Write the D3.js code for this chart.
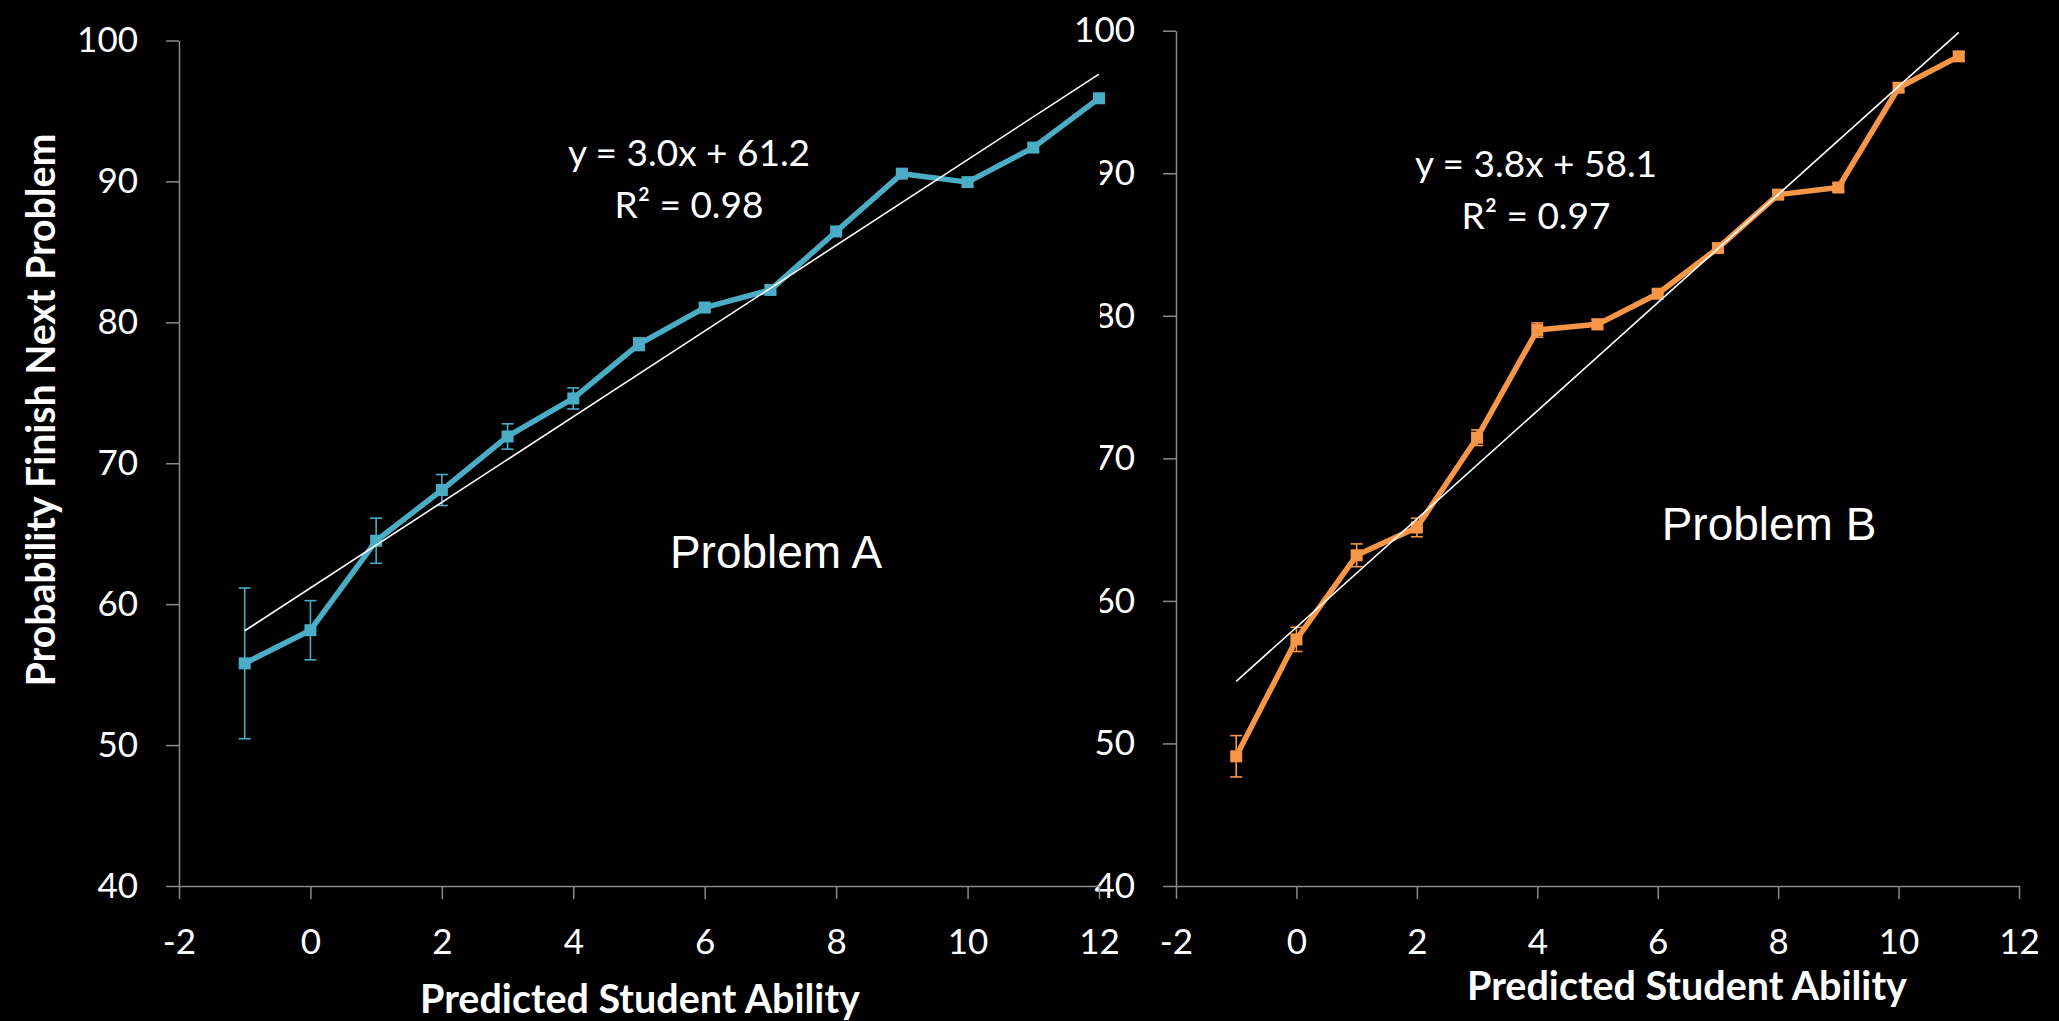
<!DOCTYPE html>
<html>
<head>
<meta charset="utf-8">
<script src="https://cdn.jsdelivr.net/npm/d3@7"></script>
<style>
  html, body { margin: 0; padding: 0; background: #000; }
  svg { display: block; }
</style>
</head>
<body>
<svg id="chart" width="2059" height="1021"></svg>
<script>
// ---------- data ----------
const abilityA = [-1, 0, 1, 2, 3, 4, 5, 6, 7, 8, 9, 10, 11, 12];
const probA    = [55.8, 58.15, 64.5, 68.1, 71.9, 74.6, 78.45, 81.05, 82.3, 86.45, 90.55, 89.95, 92.4, 95.9];
const errA     = [5.35, 2.1, 1.6, 1.1, 0.9, 0.75, 0.45, 0.3, 0.3, 0.3, 0.3, 0.3, 0.3, 0.3];

const abilityB = [-1, 0, 1, 2, 3, 4, 5, 6, 7, 8, 9, 10, 11];
const probB    = [49.1, 57.3, 63.2, 65.15, 71.45, 79.0, 79.4, 81.55, 84.75, 88.5, 89.0, 96.0, 98.2];
const errB     = [1.45, 0.85, 0.8, 0.65, 0.55, 0.5, 0.35, 0.3, 0.3, 0.3, 0.3, 0.3, 0.3];

const xTicks = [-2, 0, 2, 4, 6, 8, 10, 12];
const yTicks = [40, 50, 60, 70, 80, 90, 100];

const eqTextA = ["y = 3.0x + 61.2", "R\u00B2 = 0.98"];
const eqTextB = ["y = 3.8x + 58.1", "R\u00B2 = 0.97"];
const panelLabels = ["Problem A", "Problem B"];
const yTitle = "Probability Finish Next Problem";
const xTitle = "Predicted Student Ability";

// ---------- helpers ----------
const svg = d3.select("#chart");
svg.append("rect").attr("width", 2059).attr("height", 1021).attr("fill", "#000");

const AXIS = "#8a8a8a";
const FONT = "Lato, 'Open Sans', sans-serif";

function regression(xs, ys) {
  const n = xs.length, mx = d3.mean(xs), my = d3.mean(ys);
  let sxy = 0, sxx = 0;
  for (let i = 0; i < n; i++) { sxy += (xs[i] - mx) * (ys[i] - my); sxx += (xs[i] - mx) ** 2; }
  const m = sxy / sxx;
  return { m, b: my - m * mx };
}

function fitText(sel, targetWidth) {
  const node = sel.node();
  const fs = parseFloat(sel.attr("font-size"));
  const w = node.getComputedTextLength();
  if (w > 0) sel.attr("font-size", fs * targetWidth / w);
}

function drawAxes(g, x, y) {
  const ya = g.append("g").attr("transform", `translate(${x.range()[0]},0)`)
    .call(d3.axisLeft(y).tickValues(yTicks).tickSize(13).tickSizeOuter(0).tickPadding(28));
  const xa = g.append("g").attr("transform", `translate(0,${y.range()[0]})`)
    .call(d3.axisBottom(x).tickValues(xTicks).tickSize(13).tickSizeOuter(0).tickPadding(30)
      .tickFormat(d3.format("d")));
  [ya, xa].forEach(a => {
    a.selectAll("path.domain").attr("stroke", AXIS).attr("stroke-width", 1.5);
    a.selectAll(".tick line").attr("stroke", AXIS).attr("stroke-width", 1.5);
    a.selectAll(".tick text").attr("fill", "#fff").attr("font-family", FONT)
      .attr("font-size", 35);
  });
  xa.selectAll(".tick text").text(d => d < 0 ? "-" + Math.abs(d) : d);
}

function drawSeries(g, x, y, xs, ys, es, color) {
  const pts = xs.map((v, i) => ({ x: v, y: ys[i], e: es[i] }));
  g.append("path").datum(pts)
    .attr("fill", "none").attr("stroke", color).attr("stroke-width", 5.5)
    .attr("stroke-linejoin", "round")
    .attr("d", d3.line().x(d => x(d.x)).y(d => y(d.y)));
  const eb = g.append("g").attr("stroke", color).attr("stroke-width", 1.6);
  pts.forEach(d => {
    eb.append("line").attr("x1", x(d.x)).attr("x2", x(d.x)).attr("y1", y(d.y + d.e)).attr("y2", y(d.y - d.e));
    eb.append("line").attr("x1", x(d.x) - 6).attr("x2", x(d.x) + 6).attr("y1", y(d.y + d.e)).attr("y2", y(d.y + d.e));
    eb.append("line").attr("x1", x(d.x) - 6).attr("x2", x(d.x) + 6).attr("y1", y(d.y - d.e)).attr("y2", y(d.y - d.e));
  });
  g.append("g").selectAll("rect").data(pts).join("rect")
    .attr("x", d => x(d.x) - 6).attr("y", d => y(d.y) - 6)
    .attr("width", 12).attr("height", 12).attr("fill", color);
  const r = regression(xs, ys);
  const x0 = d3.min(xs), x1 = d3.max(xs);
  g.append("line")
    .attr("x1", x(x0)).attr("y1", y(r.m * x0 + r.b))
    .attr("x2", x(x1)).attr("y2", y(r.m * x1 + r.b))
    .attr("stroke", "#fff").attr("stroke-width", 1.6);
}

function drawTexts(g, eq, eqPos, label, labelPos, xTitlePos) {
  g.append("text").attr("x", eqPos[0]).attr("y", eqPos[1]).attr("text-anchor", "middle")
    .attr("fill", "#fff").attr("font-family", FONT).attr("font-size", 37).text(eq[0]);
  g.append("text").attr("x", eqPos[0]).attr("y", eqPos[1] + 52).attr("text-anchor", "middle")
    .attr("fill", "#fff").attr("font-family", FONT).attr("font-size", 37).text(eq[1]);
  g.append("text").attr("x", labelPos[0]).attr("y", labelPos[1]).attr("text-anchor", "middle")
    .attr("fill", "#fff").attr("font-family", "'Liberation Sans', Arial, sans-serif")
    .attr("font-size", 46).text(label);
  const t = g.append("text").attr("x", xTitlePos[0]).attr("y", xTitlePos[1]).attr("text-anchor", "middle")
    .attr("fill", "#fff").attr("font-family", FONT).attr("font-weight", "bold")
    .attr("font-size", 36).text(xTitle);
  fitText(t, 440);
}

// ---------- right chart (Problem B) ----------
const xB = d3.scaleLinear().domain([-2, 12]).range([1176, 2019]);
const yB = d3.scaleLinear().domain([40, 100]).range([886, 30.7]);
const gB = svg.append("g");
drawAxes(gB, xB, yB);
drawSeries(gB, xB, yB, abilityB, probB, errB, "#F79646");
drawTexts(gB, eqTextB, [1536, 177], panelLabels[1], [1769, 540], [1687, 1000]);

// left panel background overlapping right panel's tick labels
svg.append("rect").attr("x", 1040).attr("y", 100).attr("width", 60).attr("height", 580).attr("fill", "#000");

// ---------- left chart (Problem A) ----------
const xA = d3.scaleLinear().domain([-2, 12]).range([179, 1099]);
const yA = d3.scaleLinear().domain([40, 100]).range([886, 40.5]);
const gA = svg.append("g");
drawAxes(gA, xA, yA);
drawSeries(gA, xA, yA, abilityA, probA, errA, "#4BACC6");
drawTexts(gA, eqTextA, [689, 166], panelLabels[0], [776, 568], [640, 1013]);

const yt = gA.append("text")
  .attr("transform", "translate(55,410) rotate(-90)")
  .attr("text-anchor", "middle").attr("fill", "#fff")
  .attr("font-family", FONT).attr("font-weight", "bold").attr("font-size", 36)
  .text(yTitle);
fitText(yt, 553);
</script>
</body>
</html>
